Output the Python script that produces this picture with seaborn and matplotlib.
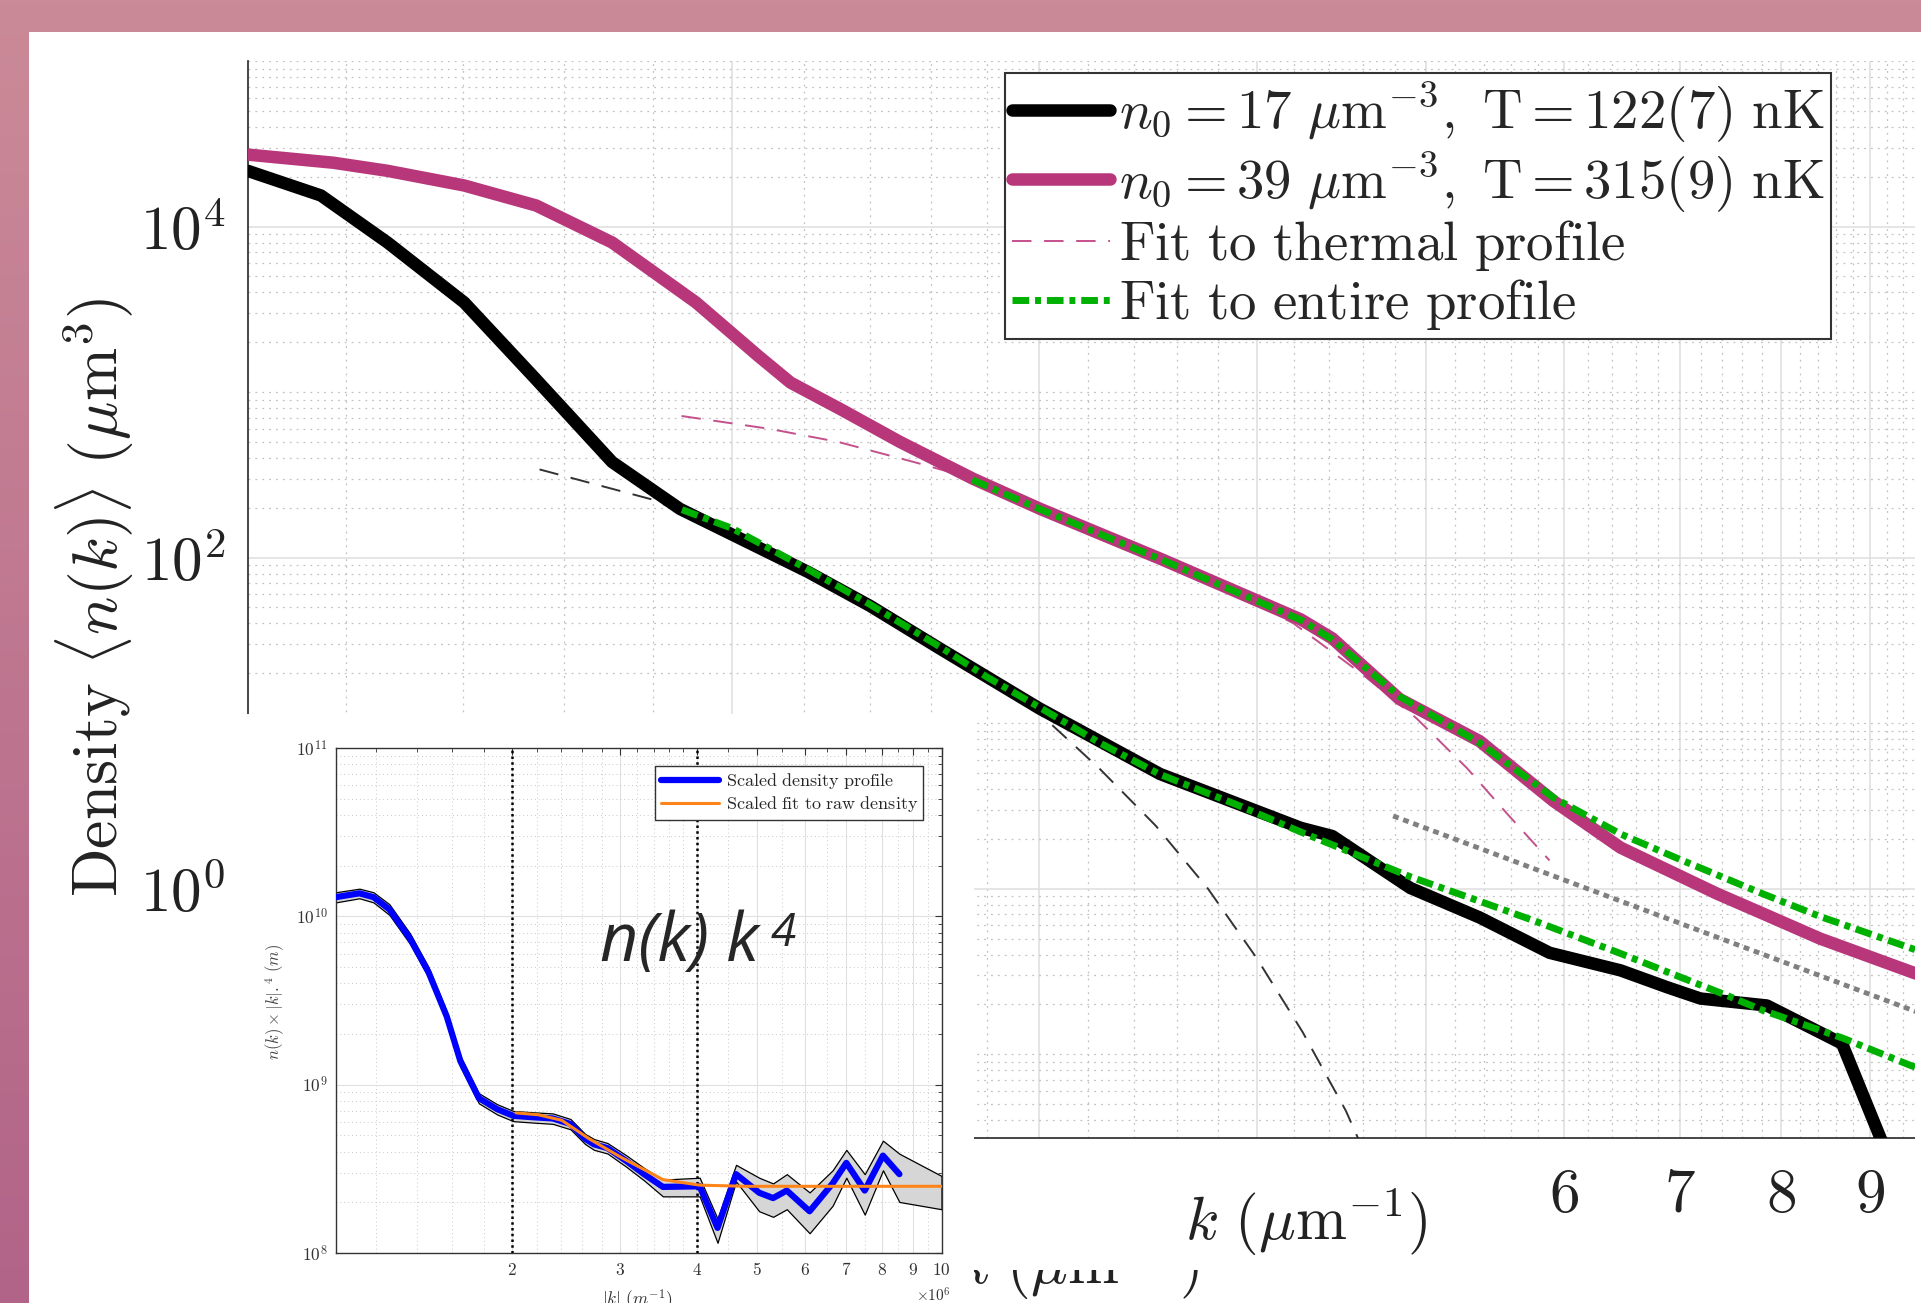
import numpy as np
import matplotlib
matplotlib.use("Agg")
import matplotlib.pyplot as plt
import seaborn as sns
from matplotlib.patches import Rectangle
from matplotlib.lines import Line2D
from matplotlib.ticker import FixedLocator, NullFormatter

# ---------------- data ----------------
# main plot: k in um^-1, density in um^3
k_black = [1.054, 1.161, 1.268, 1.403, 1.542, 1.706, 1.866, 2.21, 2.40, 2.63, 3.0, 3.52,
           4.24, 4.42, 4.90, 5.37, 5.89, 6.47, 6.88, 7.19, 7.85, 8.67, 9.2]
n_black = [21700, 15400, 8000, 3480, 1200, 378, 197, 82, 51, 28.3, 12.3, 4.93,
           2.33, 2.08, 1.01, 0.67, 0.41, 0.321, 0.254, 0.217, 0.197, 0.116, 0.025]

k_pink = [1.054, 1.18, 1.268, 1.403, 1.543, 1.706, 1.906, 2.07, 2.16, 2.306, 2.496, 2.75, 3.004,
          3.52, 4.24, 4.42, 4.83, 5.37, 5.92, 6.47, 7.35, 7.81, 8.42, 9.52, 9.9]
n_pink = [27200, 24300, 21700, 17700, 13400, 8010, 3480, 1650, 1140, 791, 500, 299, 197,
          98.6, 42.3, 32.5, 14.0, 7.79, 3.39, 1.77, 0.933, 0.707, 0.50, 0.312, 0.27]

k_black_th = [1.55, 1.8, 2.0, 2.25, 2.5, 2.75, 3.0, 3.25, 3.5, 3.75, 4.0, 4.25, 4.5, 4.6]
n_black_th = [341, 224, 140, 76, 40, 21, 11.5, 5.3, 2.4, 1.0, 0.38, 0.136, 0.0455, 0.027]

k_pink_th = [1.87, 2.1, 2.3, 2.54, 2.75, 3.0, 3.3, 3.6, 3.9, 4.2, 4.6, 4.94, 5.28, 5.57, 5.89]
n_pink_th = [717, 600, 500, 379, 300, 205, 140, 92, 60, 40, 19.7, 10.7, 5.36, 2.83, 1.48]

k_black_fit = [1.871, 2.0, 2.21, 2.4, 2.63, 2.8, 3.0, 3.25, 3.52, 3.9, 4.24, 4.6, 4.9,
               5.37, 5.76, 6.47, 7.45, 7.81, 8.68, 9.48, 9.9]
n_black_fit = [195, 150, 85, 52, 29, 19, 12.5, 7.6, 4.9, 3.2, 2.2, 1.55, 1.18,
               0.84, 0.645, 0.406, 0.226, 0.184, 0.125, 0.086, 0.073]

k_pink_fit = [2.746, 3.0, 3.52, 4.24, 4.42, 4.83, 5.37, 5.92, 6.47, 7.0, 7.81, 8.42, 9.48, 9.9]
n_pink_fit = [295, 197, 98, 42, 32, 14.5, 7.6, 3.55, 2.14, 1.5, 0.93, 0.68, 0.44, 0.375]

k_gray = [4.79, 9.6]
n_gray = [2.75, 0.178]

# inset: |k| in units of 1e6 m^-1, n(k)*|k|^4 in m
k_in = [1.033, 1.129, 1.19, 1.263, 1.365, 1.462, 1.566, 1.648, 1.766, 1.892, 2.01, 2.17,
        2.33, 2.49, 2.63, 2.72, 2.86, 3.07, 3.28, 3.52, 4.04, 4.32, 4.63, 5.05, 5.32, 5.6,
        6.1, 6.65, 7.0, 7.5, 8.03, 8.54]
scaled = [1.30e10, 1.37e10, 1.30e10, 1.10e10, 7.36e9, 4.67e9, 2.54e9, 1.38e9, 8.32e8,
          7.15e8, 6.53e8, 6.4e8, 6.3e8, 5.84e8, 4.77e8, 4.42e8, 4.2e8, 3.52e8, 2.94e8,
          2.47e8, 2.49e8, 1.41e8, 2.94e8, 2.28e8, 2.12e8, 2.35e8, 1.77e8, 2.59e8, 3.43e8,
          2.35e8, 3.79e8, 2.94e8]
k_band = k_in + [10.0]
band_hi = [1.39e10, 1.46e10, 1.39e10, 1.18e10, 7.9e9, 5.0e9, 2.72e9, 1.48e9, 8.9e8, 7.65e8,
           6.98e8, 6.85e8, 6.75e8, 6.25e8, 5.1e8, 4.75e8, 4.5e8, 3.8e8, 3.2e8, 2.73e8,
           2.8e8, 1.6e8, 3.34e8, 2.8e8, 2.59e8, 2.94e8, 2.29e8, 3.1e8, 4.1e8, 2.94e8,
           4.65e8, 3.89e8, 2.87e8]
band_lo = [1.21e10, 1.28e10, 1.21e10, 1.02e10, 6.85e9, 4.35e9, 2.36e9, 1.28e9, 7.75e8,
           6.65e8, 6.07e8, 5.95e8, 5.85e8, 5.43e8, 4.44e8, 4.1e8, 3.9e8, 3.25e8, 2.7e8,
           2.17e8, 2.17e8, 1.15e8, 2.66e8, 1.77e8, 1.64e8, 1.82e8, 1.31e8, 1.91e8, 2.8e8,
           1.69e8, 3.1e8, 2.01e8, 1.82e8]
k_or = [2.03, 2.21, 2.41, 2.67, 3.01, 3.52, 4.04, 4.80, 10.0]
n_or = [6.8e8, 6.62e8, 6.14e8, 4.77e8, 3.7e8, 2.73e8, 2.53e8, 2.49e8, 2.49e8]
k_marks = [2, 4]

legend_labels = [r'$n_0 = 17\ \mu\mathrm{m}^{-3},\ \mathrm{T} = 122(7)\ \mathrm{nK}$',
                 r'$n_0 = 39\ \mu\mathrm{m}^{-3},\ \mathrm{T} = 315(9)\ \mathrm{nK}$',
                 r'$\mathrm{Fit\ to\ thermal\ profile}$',
                 r'$\mathrm{Fit\ to\ entire\ profile}$']
inset_labels = [r'$\mathrm{Scaled\ density\ profile}$', r'$\mathrm{Scaled\ fit\ to\ raw\ density}$']

# ---------------- style ----------------
sns.set_style("white")
plt.rcParams['mathtext.fontset'] = 'cm'
plt.rcParams['font.family'] = ['DejaVu Sans']

PINK = '#b8377a'
GREEN = '#00b000'
W, H = 1921, 1303
fig = plt.figure(figsize=(W / 100, H / 100), dpi=100)
fig.patch.set_facecolor('white')

def fx(px):
    return px / W

def fy(py):
    return 1 - py / H

# background slide border
bg = fig.add_axes([0, 0, 1, 1], zorder=-10)
bg.set_axis_off()
top_c = np.array([203, 138, 152]) / 255
bot_c = np.array([178, 100, 136]) / 255
tt = np.linspace(0, 1, 256)[:, None, None]
grad = top_c * (1 - tt) + bot_c * tt
bg.imshow(grad, aspect='auto', extent=[0, 1, 0, 1], origin='upper')
bg.set_xlim(0, 1); bg.set_ylim(0, 1)
bg.add_patch(Rectangle((29 / W, 0), 1, 1 - 32 / H, color='white', lw=0))

# ---------------- main axes ----------------
ax = fig.add_axes([fx(248), fy(1138), (1950 - 248) / W, (1138 - 61) / H], zorder=1)
ax.set_facecolor('none')
ax.set_xscale('log'); ax.set_yscale('log')
ax.set_xlim(1.0543, 10)
ax.set_ylim(10 ** -1.506, 1e5)
ax.set_axisbelow(True)

sns.lineplot(x=k_pink_th, y=n_pink_th, ax=ax, color='#c4508c', lw=1.4, sort=False, estimator=None, zorder=2)
ax.lines[-1].set_dashes((10, 6.5))
sns.lineplot(x=k_black_th, y=n_black_th, ax=ax, color='#333333', lw=1.4, sort=False, estimator=None, zorder=2)
ax.lines[-1].set_dashes((10, 6.5))
sns.lineplot(x=k_pink, y=n_pink, ax=ax, color=PINK, lw=9, sort=False, estimator=None, zorder=3)
sns.lineplot(x=k_black, y=n_black, ax=ax, color='black', lw=9, sort=False, estimator=None, zorder=3.1)
sns.lineplot(x=k_gray, y=n_gray, ax=ax, color='#808080', lw=3.5, sort=False, estimator=None, zorder=4)
ax.lines[-1].set_dashes((1.2, 1.0))
sns.lineplot(x=k_black_fit, y=n_black_fit, ax=ax, color=GREEN, lw=5, sort=False, estimator=None, zorder=4)
ax.lines[-1].set_dashes((2.4, 0.85, 0.85, 0.85))
sns.lineplot(x=k_pink_fit, y=n_pink_fit, ax=ax, color=GREEN, lw=5, sort=False, estimator=None, zorder=4)
ax.lines[-1].set_dashes((2.4, 0.85, 0.85, 0.85))
ax.set_xlabel(''); ax.set_ylabel('')

ax.set_xticks([2, 3, 4, 5, 6, 7, 8, 9, 10])
ax.set_xticklabels(['', '', '', '', '$6$', '$7$', '$8$', '$9$', ''])
ax.xaxis.set_minor_locator(FixedLocator([i / 5 for i in range(6, 50) if i % 5]))
ax.xaxis.set_minor_formatter(NullFormatter())
ax.set_yticks([1, 100, 1e4])
ax.set_yticklabels(['$10^0$', '$10^2$', '$10^4$'])
ymin = [m * 10.0 ** e for e in range(-2, 6) for m in range(1, 10)
        if not (m == 1 and e in (0, 2, 4))]
ax.yaxis.set_minor_locator(FixedLocator([v for v in ymin if 0.03 < v <= 1e5]))
ax.yaxis.set_minor_formatter(NullFormatter())
ax.grid(True, which='major', color='#dedede', lw=1.1, ls='-')
ax.grid(True, which='minor', color='#c2c2c2', lw=0.9, ls=(0, (1.5, 4)))
for s in ['top', 'right']:
    ax.spines[s].set_visible(False)
for s in ['left', 'bottom']:
    ax.spines[s].set_color('#262626'); ax.spines[s].set_linewidth(1.2)
ax.tick_params(which='major', direction='in', length=12, width=1.1, color='#262626',
               labelsize=44, labelcolor='#222222')
ax.tick_params(axis='x', which='major', pad=20)
ax.tick_params(axis='y', which='major', pad=16)
ax.tick_params(which='minor', direction='in', length=6.5, width=1.0, color='#262626')

# legend
handles = [Line2D([], [], color='black', lw=9),
           Line2D([], [], color=PINK, lw=9),
           Line2D([], [], color='#c4508c', lw=1.4, dashes=(10, 6.5)),
           Line2D([], [], color=GREEN, lw=5, dashes=(2.4, 0.85, 0.85, 0.85))]
leg = fig.legend(handles, legend_labels, loc='upper left', bbox_to_anchor=(fx(1005), fy(73)),
                 bbox_transform=fig.transFigure, fontsize=39.5, frameon=True, fancybox=False,
                 edgecolor='#333333', framealpha=1, borderpad=0.12, handlelength=1.8,
                 handletextpad=0.15, labelspacing=0.07, borderaxespad=0)
leg.get_frame().set_linewidth(1.5)
leg.set_zorder(10)

# axis labels
fig.text(fx(95), fy(597), r'$\mathrm{Density}\ \langle n(k)\rangle\ (\mu\mathrm{m}^3)$',
         rotation=90, ha='center', va='center', fontsize=46, color='#222222')
fig.text(fx(1078), fy(1284), r'$k\ (\mu\mathrm{m}^{-1})$', ha='center', va='baseline',
         fontsize=44, color='#222222', zorder=4)
fig.add_artist(Rectangle((fx(974), fy(1270)), fx(1450) - fx(974), 120 / H,
                         transform=fig.transFigure, color='white', lw=0, zorder=5))
fig.text(fx(1306), fy(1240), r'$k\ (\mu\mathrm{m}^{-1})$', ha='center', va='baseline',
         fontsize=44, color='#222222', zorder=7)
fig.add_artist(Rectangle((fx(1915), 0), 1, fy(32), transform=fig.transFigure,
                         color='white', lw=0, zorder=6))

# ---------------- inset ----------------
fig.add_artist(Rectangle((fx(244), 0), fx(974) - fx(244), fy(714), transform=fig.transFigure,
                         color='white', lw=0, zorder=6))
axi = fig.add_axes([fx(336), fy(1253), (941.5 - 336) / W, (1253 - 748) / H], zorder=8)
axi.set_facecolor('white')
axi.set_xscale('log'); axi.set_yscale('log')
axi.set_xlim(1.034, 10); axi.set_ylim(1e8, 1e11)
axi.set_axisbelow(True)
axi.fill_between(k_band, band_lo, band_hi, facecolor='#d6d6d6', edgecolor='black', lw=0.9, zorder=2)
for km in k_marks:
    axi.axvline(km, color='black', lw=1.8, ls=(0, (1, 1.3)), zorder=2.5)
sns.lineplot(x=k_in, y=scaled, ax=axi, color='#0000ff', lw=4.5, sort=False, estimator=None, zorder=3)
sns.lineplot(x=k_or, y=n_or, ax=axi, color='#ff8419', lw=2.2, sort=False, estimator=None, zorder=4)
axi.set_xlabel(''); axi.set_ylabel('')
axi.set_xticks([2, 3, 4, 5, 6, 7, 8, 9, 10])
axi.set_xticklabels(['$%d$' % v for v in [2, 3, 4, 5, 6, 7, 8, 9, 10]])
axi.xaxis.set_minor_locator(FixedLocator([1.2, 1.4, 1.6, 1.8, 2.2, 2.4, 2.6, 2.8, 3.2, 3.4, 3.6,
                                          3.8, 4.5, 5.5, 6.5, 7.5, 8.5, 9.5]))
axi.xaxis.set_minor_formatter(NullFormatter())
axi.set_yticks([1e8, 1e9, 1e10, 1e11])
axi.set_yticklabels(['$10^{8}$', '$10^{9}$', '$10^{10}$', '$10^{11}$'])
axi.yaxis.set_minor_locator(FixedLocator([m * 10.0 ** e for e in (8, 9, 10) for m in range(2, 10)]))
axi.yaxis.set_minor_formatter(NullFormatter())
axi.grid(True, which='major', color='#e0e0e0', lw=0.8, ls='-')
axi.grid(True, which='minor', color='#c8c8c8', lw=0.7, ls=(0, (1, 3)))
for s in axi.spines.values():
    s.set_color('#333333'); s.set_linewidth(1.0)
axi.tick_params(which='both', direction='in', top=True, right=True, color='#333333')
axi.tick_params(which='major', length=5, width=0.8, labelsize=12.5, labelcolor='#333333', pad=6)
axi.tick_params(which='minor', length=3, width=0.6)
ih = [Line2D([], [], color='#0000ff', lw=4.5), Line2D([], [], color='#ff8419', lw=2.2)]
ileg = axi.legend(ih, inset_labels, loc='upper right', fontsize=13, fancybox=False,
                  edgecolor='#333333', framealpha=1, borderaxespad=1.0, handlelength=3.2,
                  borderpad=0.3, labelspacing=0.15, handletextpad=0.4)
ileg.get_frame().set_linewidth(1.0)

fig.text(fx(600), fy(961), 'n(k) k', fontsize=48, style='italic',
         family=['Open Sans', 'DejaVu Sans'], ha='left', va='baseline', zorder=9)
fig.text(fx(771), fy(946), '4', fontsize=33, style='italic',
         family=['Open Sans', 'DejaVu Sans'], ha='left', va='baseline', zorder=9)
fig.text(fx(275), fy(1002), r'$n(k)\times|k|.^4\ (m)$', rotation=90, fontsize=12,
         color='#444444', ha='center', va='center', zorder=9)
fig.text(fx(637), fy(1300), r'$|k|\ (m^{-1})$', fontsize=12.5, color='#333333',
         ha='center', va='center', zorder=9)
fig.text(fx(933), fy(1296), r'$\times10^{6}$', fontsize=11, color='#333333',
         ha='center', va='center', zorder=9)

fig.savefig('out.png', dpi=100)
